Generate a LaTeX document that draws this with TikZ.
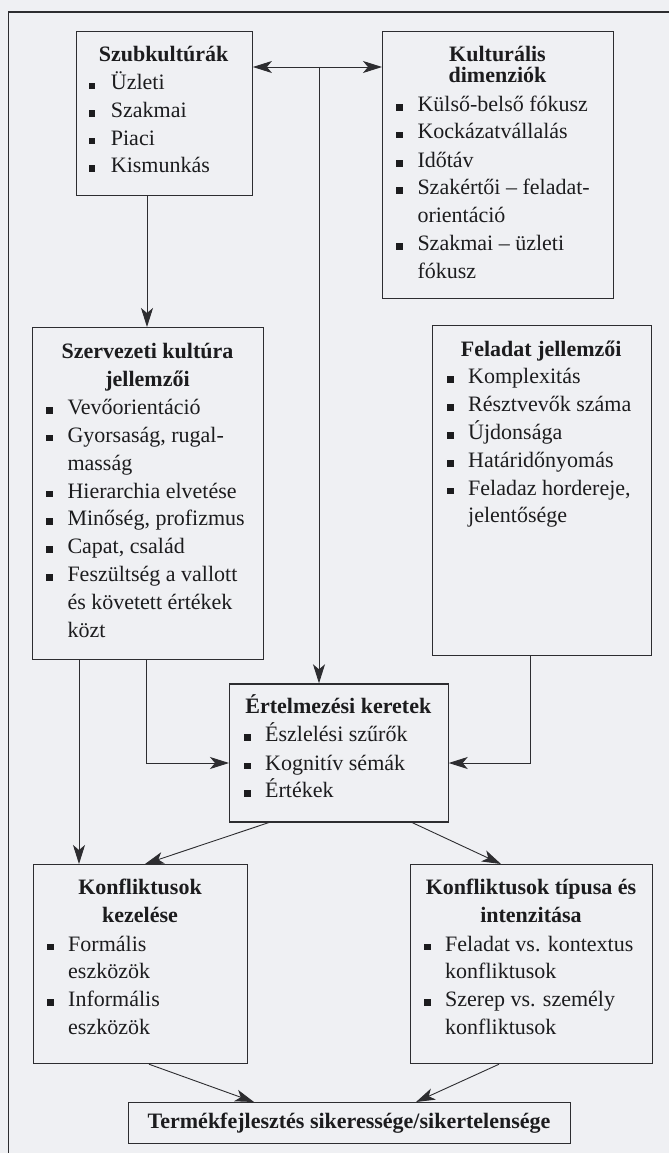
\documentclass[tikz,border=0pt]{standalone}
\usepackage{fontspec}
\setmainfont{Liberation Serif}
\usetikzlibrary{arrows.meta}
\definecolor{bgcol}{RGB}{239,240,243}
\definecolor{inkcol}{RGB}{28,28,30}
\definecolor{linecol}{RGB}{45,45,48}
\newcommand{\myitem}[5]{%
  \fill[bul, shift={(#2,#4)}] (-3.3,-7.3) rectangle (3.3,-0.7);
  \node[txt] (#1) at (#3,#4) {#5};}
\newcommand{\myline}[4]{\node[txt] (#1) at (#2,#3) {#4};}
\begin{document}
\begin{tikzpicture}[x=1pt,y=-1pt,
  box/.style={draw=linecol, line width=1.2pt, rectangle, inner sep=0pt, anchor=north west},
  conn/.style={draw=linecol, line width=0.9pt},
  arr/.style={conn, -{Stealth[length=19pt,width=12pt,inset=5pt]}},
  darr/.style={conn, {Stealth[length=19pt,width=12pt,inset=5pt]}-{Stealth[length=19pt,width=12pt,inset=5pt]}},
  txt/.style={anchor=base west, inner sep=0pt, text=inkcol, font=\fontsize{22}{26}\selectfont},
  ttl/.style={anchor=base, inner sep=0pt, text=inkcol, font=\fontsize{22}{26}\selectfont\bfseries},
  bul/.style={fill=inkcol},
  frame/.style={draw=linecol, line width=1.4pt}]
\useasboundingbox (0,0) rectangle (669,1153);
\fill[bgcol] (0,0) rectangle (669,1153);
\draw[frame] (669,12) -- (8.5,12) -- (8.5,1153);

% boxes
\node[box, minimum width=176.2pt, minimum height=164pt] (szub) at (75.5,31) {};
\node[box, minimum width=231pt, minimum height=267pt] (kult) at (382,31) {};
\node[box, minimum width=231pt, minimum height=331.5pt] (szerv) at (32,327) {};
\node[box, minimum width=218.5pt, minimum height=330pt] (fel) at (432,325) {};
\node[box, minimum width=218.5pt, minimum height=138pt] (ert) at (229,683.3) {};
\node[box, minimum width=214pt, minimum height=199pt] (kkez) at (33,864) {};
\node[box, minimum width=242pt, minimum height=199pt] (ktip) at (410,864) {};
\node[box, minimum width=442pt, minimum height=41pt] (term) at (128,1102) {};

% Szubkulturak
\node[ttl] (szubT) at (163.6,61.7) {Szubkultúrák};
\myitem{szub1}{92}{110.7}{90}{Üzleti}
\myitem{szub2}{92}{110.7}{117.3}{Szakmai}
\myitem{szub3}{92}{110.7}{145}{Piaci}
\myitem{szub4}{92}{110.7}{172.7}{Kismunkás}

% Kulturalis dimenziok
\node[ttl] (kultT1) at (497.5,61.3) {Kulturális};
\node[ttl] (kultT2) at (497.5,83) {dimenziók};
\myitem{kult1}{399.7}{417.3}{111.3}{Külső-belső fókusz}
\myitem{kult2}{399.7}{417.3}{139}{Kockázatvállalás}
\myitem{kult3}{399.7}{417.3}{167.3}{Időtáv}
\myitem{kult4}{399.7}{417.3}{194.7}{Szakértői – feladat-}
\myline{kult4b}{417.3}{222.3}{orientáció}
\myitem{kult5}{399.7}{417.3}{250.7}{Szakmai – üzleti}
\myline{kult5b}{417.3}{278}{fókusz}

% Szervezeti kultura jellemzoi
\node[ttl] (szervT1) at (147.5,358.7) {Szervezeti kultúra};
\node[ttl] (szervT2) at (147.5,386) {jellemzői};
\myitem{szerv1}{49.7}{67.3}{414.7}{Vevőorientáció}
\myitem{szerv2}{49.7}{67.3}{442}{Gyorsaság, rugal-}
\myline{szerv2b}{67.3}{470.3}{masság}
\myitem{szerv3}{49.7}{67.3}{498}{Hierarchia elvetése}
\myitem{szerv4}{49.7}{67.3}{525.3}{Minőség, profizmus}
\myitem{szerv5}{49.7}{67.3}{553.7}{Capat, család}
\myitem{szerv6}{49.7}{67.3}{581.3}{Feszültség a vallott}
\myline{szerv6b}{67.3}{609.3}{és követett értékek}
\myline{szerv6c}{67.3}{637}{közt}

% Feladat jellemzoi
\node[ttl] (felT) at (541.2,356) {Feladat jellemzői};
\myitem{fel1}{450.7}{468}{383.3}{Komplexitás}
\myitem{fel2}{450.7}{468}{411.7}{Résztvevők száma}
\myitem{fel3}{450.7}{468}{439.3}{Újdonsága}
\myitem{fel4}{450.7}{468}{467.3}{Határidőnyomás}
\myitem{fel5}{450.7}{468}{495}{Feladaz hordereje,}
\myline{fel5b}{468}{522.7}{jelentősége}

% Ertelmezesi keretek
\node[ttl] (ertT) at (338.3,713.3) {Értelmezési keretek};
\myitem{ert1}{247.3}{265}{741.7}{Észlelési szűrők}
\myitem{ert2}{247.3}{265}{770}{Kognitív sémák}
\myitem{ert3}{247.3}{265}{797.3}{Értékek}

% Konfliktusok kezelese
\node[ttl] (kkezT1) at (140,894.5) {Konfliktusok};
\node[ttl] (kkezT2) at (140,922) {kezelése};
\myitem{kkez1}{50.5}{68}{951}{Formális}
\myline{kkez1b}{68}{978.5}{eszközök}
\myitem{kkez2}{50.5}{68}{1006.5}{Informális}
\myline{kkez2b}{68}{1034}{eszközök}

% Konfliktusok tipusa es intenzitasa
\node[ttl] (ktipT1) at (531,894.5) {Konfliktusok típusa és};
\node[ttl] (ktipT2) at (531,922) {intenzitása};
\myitem{ktip1}{427.5}{445}{951}{Feladat vs. kontextus}
\myline{ktip1b}{445}{978.5}{konfliktusok}
\myitem{ktip2}{427.5}{445}{1006.5}{Szerep vs. személy}
\myline{ktip2b}{445}{1034}{konfliktusok}

% Termekfejlesztes
\node[ttl] (termT) at (349,1128) {Termékfejlesztés sikeressége/sikertelensége};

% connector coordinates
\coordinate (mid) at (319,67);
\coordinate (xa) at (147,0);
\coordinate (xb) at (79,0);
\coordinate (xc) at (146,0);
\coordinate (xd) at (530,0);
\coordinate (yc) at (0,763);
\coordinate (e1) at (269,0);
\coordinate (e2) at (145,0);
\coordinate (e3) at (412,0);
\coordinate (e4) at (501,0);
\coordinate (f1) at (149,0);
\coordinate (f2) at (254,0);
\coordinate (f3) at (499,0);
\coordinate (f4) at (416,0);

% connectors
\draw[darr] (szub.east |- mid) -- (kult.west |- mid);
\draw[arr] (mid) -- (ert.north -| mid);
\draw[arr] (szub.south -| xa) -- (szerv.north -| xa);
\draw[arr] (szerv.south -| xb) -- (kkez.north -| xb);
\draw[arr] (szerv.south -| xc) |- (ert.west |- yc);
\draw[arr] (fel.south -| xd) |- (ert.east |- yc);
\draw[arr] (ert.south -| e1) -- (kkez.north -| e2);
\draw[arr] (ert.south -| e3) -- (ktip.north -| e4);
\draw[arr] (kkez.south -| f1) -- (term.north -| f2);
\draw[arr] (ktip.south -| f3) -- (term.north -| f4);
\end{tikzpicture}
\end{document}
